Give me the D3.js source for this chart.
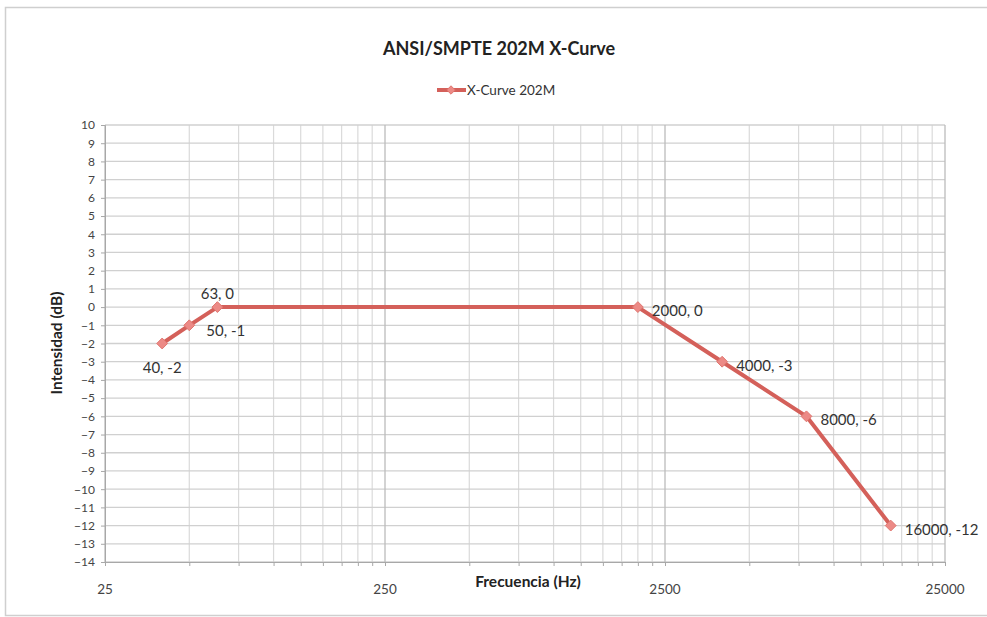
<!DOCTYPE html>
<html><head><meta charset="utf-8">
<script src="https://cdn.jsdelivr.net/npm/d3@7"></script>
<style>body{margin:0;background:#fff}svg{display:block}text{font-family:Lato,"Open Sans",sans-serif}</style>
</head><body><svg id="c" width="987" height="617"></svg>
<script>
const freqs = [40, 50, 63, 2000, 4000, 8000, 16000];
const levels = [-2, -1, 0, 0, -3, -6, -12];
const labelPos = ["below", "right", "above", "right", "right", "right", "right"];
const xMajorTicks = [25, 250, 2500, 25000];
const yTicks = d3.range(-14, 11, 1);
const title = "ANSI/SMPTE 202M X-Curve";
const seriesName = "X-Curve 202M";
const xTitle = "Frecuencia (Hz)";
const yTitle = "Intensidad (dB)";

const svg = d3.select("#c");
const L = 105, R = 945, T = 125, B = 562;
const x = d3.scaleLog().domain([25, 25000]).range([L, R]);
const y = d3.scaleLinear().domain([-14, 10]).range([B, T]);

// outer border
svg.append("rect").attr("x", 5.5).attr("y", 7.5).attr("width", 990).attr("height", 608)
  .attr("fill", "#fff").attr("stroke", "#cfcfcf").attr("stroke-width", 1.5);

// minor vertical gridlines
const minor = [];
[25, 250, 2500].forEach(d => { for (let k = 2; k <= 9; k++) minor.push(d * k); });
const g = svg.append("g");
g.selectAll(".mv").data(minor).join("line")
  .attr("x1", d => x(d)).attr("x2", d => x(d)).attr("y1", T).attr("y2", B)
  .attr("stroke", "#dadada").attr("stroke-width", 1.2);
// horizontal gridlines
g.selectAll(".h").data(yTicks).join("line")
  .attr("x1", L).attr("x2", R).attr("y1", d => y(d)).attr("y2", d => y(d))
  .attr("stroke", "#d0d0d0").attr("stroke-width", 1.3);
// major vertical gridlines
g.selectAll(".Mv").data(xMajorTicks).join("line")
  .attr("x1", d => x(d)).attr("x2", d => x(d)).attr("y1", T).attr("y2", B)
  .attr("stroke", "#bcbcbc").attr("stroke-width", 1.3);

// axes
const xAxis = svg.append("g").attr("transform", `translate(0,${B})`)
  .call(d3.axisBottom(x).tickValues(minor.concat(xMajorTicks)).tickSize(4).tickFormat(""));
xAxis.select(".domain").attr("stroke", "#a8a8a8");
xAxis.selectAll(".tick line").attr("stroke", "#a8a8a8");
svg.append("g").selectAll("text").data(xMajorTicks).join("text")
  .attr("x", d => x(d)).attr("y", 594).attr("text-anchor", "middle")
  .attr("font-size", 13.5).attr("fill", "#444").text(d => d);

const yAxis = svg.append("g").attr("transform", `translate(${L},0)`)
  .call(d3.axisLeft(y).tickValues(yTicks).tickSize(4).tickPadding(6));
yAxis.select(".domain").attr("stroke", "#a8a8a8");
yAxis.selectAll(".tick line").attr("stroke", "#a8a8a8");
yAxis.selectAll(".tick text").attr("font-size", 12).attr("fill", "#444")
  .attr("font-family", "Lato, sans-serif");

// titles
svg.append("text").attr("x", 499).attr("y", 55).attr("text-anchor", "middle")
  .attr("font-size", 18).attr("font-weight", "bold").attr("fill", "#222").text(title);
svg.append("text").attr("x", 528).attr("y", 587).attr("text-anchor", "middle")
  .attr("font-size", 15.5).attr("font-weight", "bold").attr("fill", "#222").text(xTitle);
svg.append("text").attr("transform", "translate(62,343) rotate(-90)").attr("text-anchor", "middle")
  .attr("font-size", 15.5).attr("font-weight", "bold").attr("fill", "#222").text(yTitle);

// legend
const lg = svg.append("g");
lg.append("line").attr("x1", 437).attr("x2", 466).attr("y1", 90).attr("y2", 90)
  .attr("stroke", "#d4605a").attr("stroke-width", 4);
lg.append("path").attr("d", d3.symbol(d3.symbolDiamond2, 45)())
  .attr("transform", "translate(451,90)").attr("fill", "#ec8a86").attr("stroke", "#e07670");
lg.append("text").attr("x", 467).attr("y", 95).attr("font-size", 13.5).attr("fill", "#333").text(seriesName);

// series
const pts = freqs.map((f, i) => ({ f, v: levels[i], p: labelPos[i] }));
svg.append("path").datum(pts)
  .attr("d", d3.line().x(d => x(d.f)).y(d => y(d.v)))
  .attr("fill", "none").attr("stroke", "#d4605a").attr("stroke-width", 4).attr("stroke-linejoin", "round");
svg.selectAll(".m").data(pts).join("path")
  .attr("d", d3.symbol(d3.symbolDiamond2, 75)())
  .attr("transform", d => `translate(${x(d.f)},${y(d.v)})`)
  .attr("fill", "#ec8a86").attr("stroke", "#e07670").attr("stroke-width", 1);

svg.selectAll(".lbl").data(pts).join("text")
  .attr("x", d => d.p === "right" ? x(d.f) + (d.f === 50 ? 17 : 14) : x(d.f))
  .attr("y", d => d.p === "above" ? y(d.v) - 8 : d.p === "below" ? y(d.v) + 29 : y(d.v) + (d.f === 50 ? 11 : 9))
  .attr("text-anchor", d => d.p === "right" ? "start" : "middle")
  .attr("font-size", 15).attr("fill", "#333")
  .text(d => `${d.f}, ${d.v}`);
</script></body></html>
